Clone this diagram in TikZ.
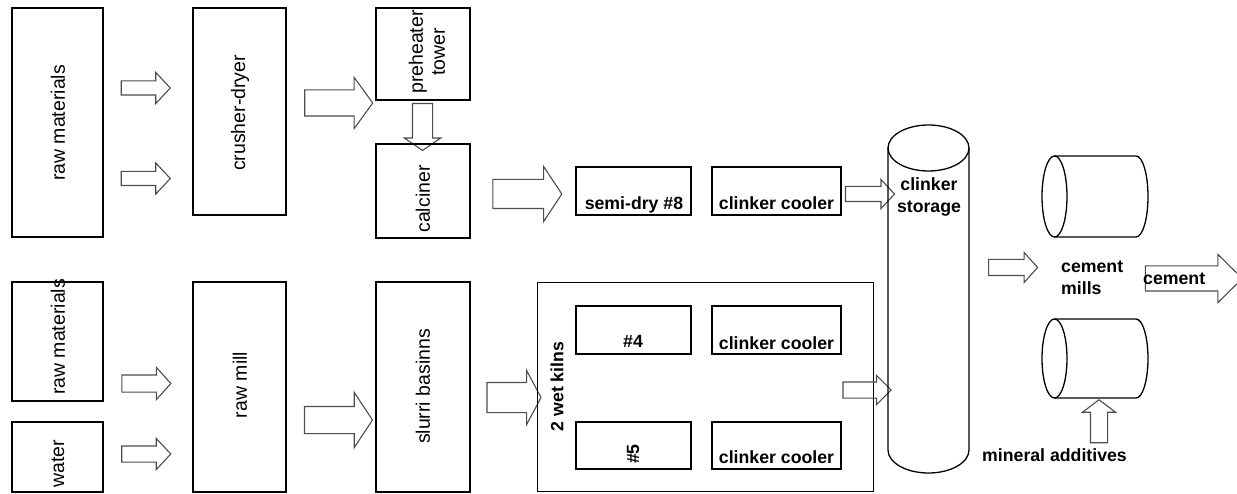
\documentclass[tikz,border=0pt]{standalone}
\usepackage{fontspec}
\setmainfont{Liberation Sans}
\usetikzlibrary{shapes.arrows}

\begin{document}
\begin{tikzpicture}[x=1pt,y=1pt,
  unit/.style 2 args={draw,line width=2.4pt,minimum width=#1pt,minimum height=#2pt,inner sep=0pt},
  flow/.style n args={4}{single arrow,draw=black!70,line width=1.1pt,inner xsep=0pt,inner ysep=#2pt,
    minimum height=#1pt,single arrow head extend=#3pt,single arrow tip angle=#4},
  lbl/.style={font=\fontsize{19.5}{22}\selectfont,rotate=90,inner sep=0pt},
  tag/.style={font=\bfseries\fontsize{17.7}{21.5}\selectfont,inner sep=0pt},
  cyl/.style={line width=1.3pt}]
\useasboundingbox (0,0) rectangle (1237,-494);
% Dry line
\node[unit={91}{229}] (rawtop) at (57.5,-122.5) {};
\node[lbl] (rawtoplbl) at (58,-123) {raw materials};
\node[flow={49}{6.5}{8.5}{94}] (a1) at (142.5,-88) {};
\node[flow={49}{6.5}{8.5}{94}] (a2) at (142.5,-178.5) {};
\node[unit={93}{207}] (crusher) at (239.5,-111.5) {};
\node[lbl] (crusherlbl) at (240,-113) {crusher-dryer};
\node[flow={68}{12.5}{12.5}{108}] (a3) at (334,-103) {};
\node[unit={94}{92}] (preheat) at (423,-54) {};
\node[lbl,align=center] (preheatlbl) at (427,-52) {preheater\\tower};
\node[flow={47}{0}{8}{111},inner xsep=9.5pt,shape border rotate=270] (a4) at (422.5,-123.5) {};
\node[unit={94}{94}] (calciner) at (423,-191) {};
\node[lbl] (calcinerlbl) at (423,-199) {calciner};
\node[flow={69}{14}{13}{113}] (a5) at (522.5,-194) {};
\node[unit={115}{48}] (semidry) at (633.5,-191) {};
\node[tag,anchor=base] (semidrylbl) at (634,-210) {semi-dry \#8};
\node[unit={129}{48}] (cooler8) at (776.5,-191) {};
\node[tag,anchor=base] (cooler8lbl) at (776.5,-210) {clinker cooler};
\node[flow={49}{7}{7}{94}] (a6) at (866.5,-194) {};
% Wet line
\node[unit={91}{119}] (rawbot) at (57.5,-341.5) {};
\node[lbl] (rawbotlbl) at (58,-337) {raw materials};
\node[unit={91}{70}] (water) at (57.5,-457) {};
\node[lbl] (waterlbl) at (58,-463.5) {water};
\node[flow={49}{8}{7.5}{96}] (b1) at (142.5,-383.5) {};
\node[flow={49}{7.5}{7.5}{94}] (b2) at (142.5,-454) {};
\node[unit={93}{210}] (rawmill) at (239.5,-387) {};
\node[lbl] (rawmilllbl) at (240,-385) {raw mill};
\node[flow={68}{13}{14}{113}] (b3) at (334,-420) {};
\node[unit={94}{210}] (slurry) at (423,-387) {};
\node[lbl] (slurrylbl) at (423,-386.5) {slurri basinns};
\node[flow={54}{14.5}{12}{124}] (b4) at (510,-397.5) {};
\node[draw,line width=1pt,minimum width=336pt,minimum height=208pt] (wet) at (705,-387) {};
\node[tag,rotate=90] (wetlbl) at (557,-386.5) {2 wet kilns};
\node[unit={115}{48}] (kiln4) at (633.5,-330) {};
\node[tag,anchor=base] (kiln4lbl) at (633,-348) {\#4};
\node[unit={129}{48}] (cooler4) at (776.5,-330) {};
\node[tag,anchor=base] (cooler4lbl) at (776.5,-349) {clinker cooler};
\node[unit={115}{47}] (kiln5) at (633.5,-445.5) {};
\node[tag,rotate=90] (kiln5lbl) at (633,-454) {\#5};
\node[unit={129}{47}] (cooler5) at (776.5,-445.5) {};
\node[tag,anchor=base] (cooler5lbl) at (776.5,-463) {clinker cooler};
\node[flow={48}{7.5}{6.5}{90}] (b5) at (863,-390) {};
% Clinker storage
\draw[cyl] (928.5,-148) ellipse[x radius=40.5pt,y radius=23pt];
\draw[cyl] (888,-148) -- (888,-450) arc[start angle=180,end angle=360,x radius=40.5pt,y radius=23pt] -- (969,-148);
\node[tag,align=center] (storagelbl) at (929,-197) {clinker\\storage};
\node[flow={49}{7.5}{7}{96}] (a7) at (1009.5,-267.5) {};
% Cement mills
\draw[cyl] (1054.5,-196.5) ellipse[x radius=12.5pt,y radius=40.5pt];
\draw[cyl] (1054.5,-156) -- (1136,-156) arc[start angle=90,end angle=-90,x radius=12pt,y radius=40.5pt] -- (1054.5,-237);
\draw[cyl] (1054.5,-358.5) ellipse[x radius=12.5pt,y radius=39.5pt];
\draw[cyl] (1054.5,-319) -- (1136,-319) arc[start angle=90,end angle=-90,x radius=12pt,y radius=39.5pt] -- (1054.5,-398);
\node[tag,align=left,anchor=west] (millslbl) at (1061,-278) {cement\\mills};
\node[flow={97}{12}{11.5}{89}] (a8) at (1187.5,-278.5) {};
\node[tag,anchor=base west] (cementlbl) at (1143,-285) {cement};
\node[flow={43}{0}{8}{106},inner xsep=8pt,shape border rotate=90] (a9) at (1099,-424.5) {};
\node[tag,anchor=base] (additiveslbl) at (1054.5,-461) {mineral additives};
\end{tikzpicture}
\end{document}
